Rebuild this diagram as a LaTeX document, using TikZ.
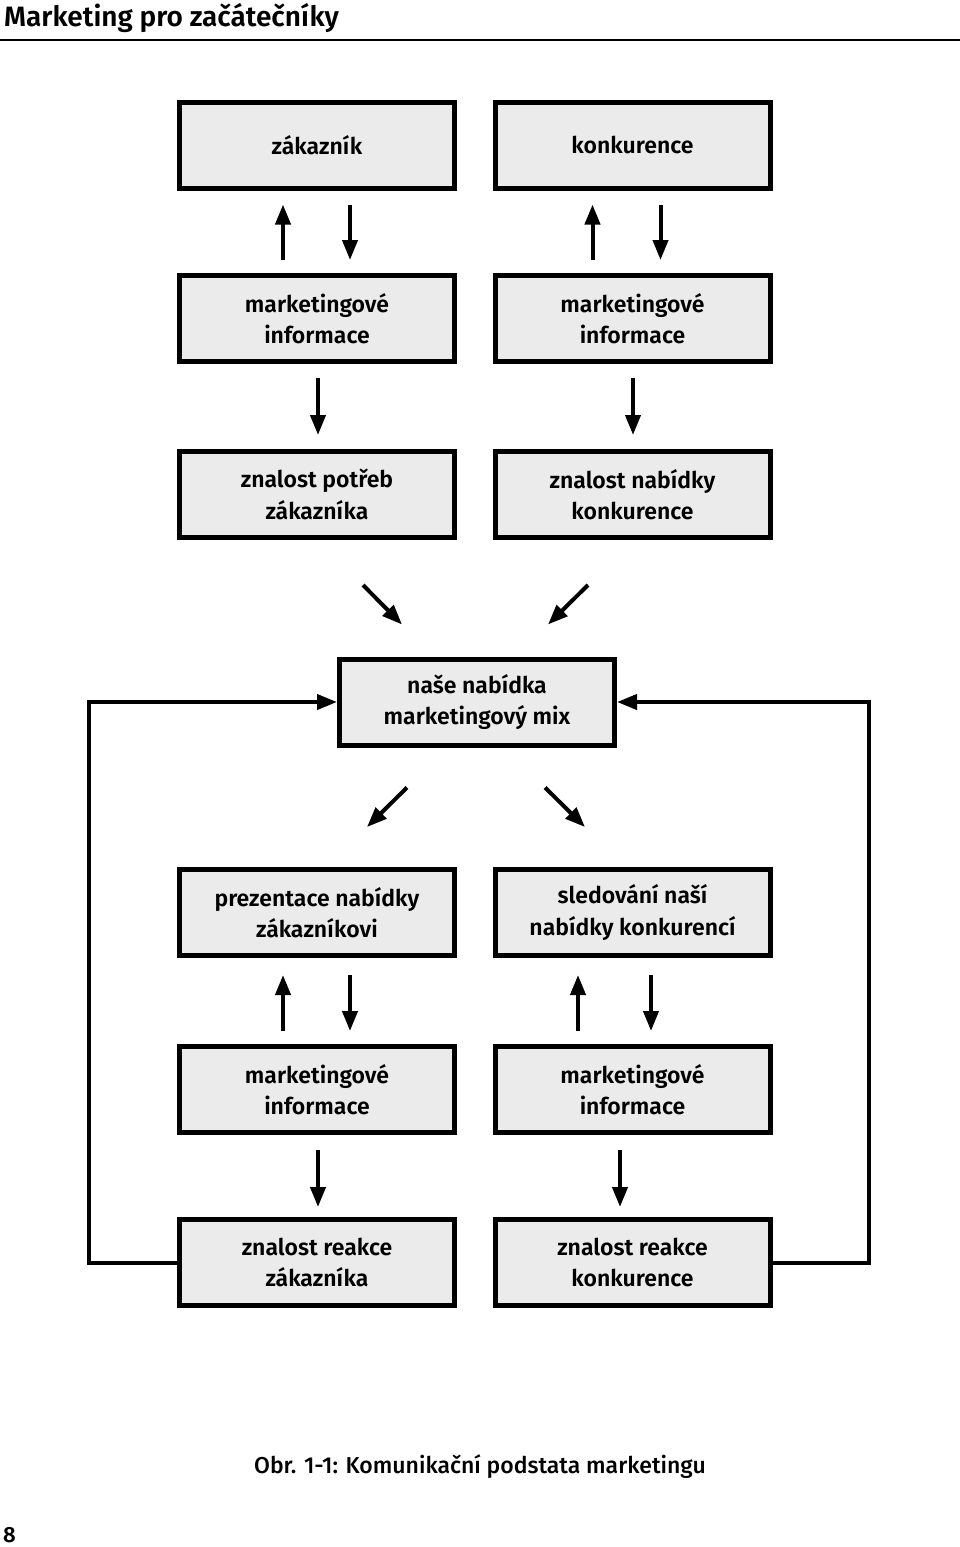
\documentclass[tikz,border=0pt]{standalone}
\usepackage{fontspec}
\setmainfont{Fira Sans}[BoldFont={Fira Sans SemiBold}]
\newfontfamily\capfont{Fira Sans Medium}
\usetikzlibrary{arrows.meta,calc}
\begin{document}
\begin{tikzpicture}[x=1pt,y=-1pt,
  box/.style={draw=black,line width=5pt,fill=boxgray,minimum width=275pt,minimum height=86pt,
    align=center,font=\fontsize{23}{31.5}\selectfont\bfseries,inner sep=0pt},
  arr/.style={line width=4pt,-{Triangle[length=20pt,width=15pt]}},
  fb/.style={line width=4pt,-{Triangle[length=20pt,width=15pt]}}]
\definecolor{boxgray}{HTML}{EBEBEB}
\useasboundingbox (0,0) rectangle (960,1547);
% header
\node[anchor=base west,font=\fontsize{28}{30}\selectfont\bfseries,inner sep=0pt] (title) at (4,26) {Marketing pro začátečníky};
\draw[line width=2pt] (0,40) -- (960,40);
% boxes
\node[box] (zak) at (317,145) {zákazník};
\node[box] (kon) at (632.5,145) {konkurence};
\node[box] (miL) at (317,318.5) {marketingové\\informace};
\node[box] (miR) at (632.5,318.5) {marketingové\\informace};
\node[box] (zpz) at (317,494.5) {znalost potřeb\\zákazníka};
\node[box] (znk) at (632.5,494.5) {znalost nabídky\\konkurence};
\node[box] (mix) at (477,702) {naše nabídka\\marketingový mix};
\node[box] (pnz) at (317,912.5) {prezentace nabídky\\zákazníkovi};
\node[box] (snk) at (632.5,912.5) {sledování naší\\nabídky konkurencí};
\node[box] (mi2L) at (317,1089.5) {marketingové\\informace};
\node[box] (mi2R) at (632.5,1089.5) {marketingové\\informace};
\node[box] (zrz) at (317,1262.5) {znalost reakce\\zákazníka};
\node[box] (zrk) at (632.5,1262.5) {znalost reakce\\konkurence};
% arrows row1-row2
\draw[arr] ($(miL.north)+(-34,-13)$) -- ($(zak.south)+(-34,14)$);
\draw[arr] ($(zak.south)+(33,14)$) -- ($(miL.north)+(33,-13)$);
\draw[arr] ($(miR.north)+(-40,-13)$) -- ($(kon.south)+(-40,14)$);
\draw[arr] ($(kon.south)+(28,14)$) -- ($(miR.north)+(28,-13)$);
% row2-row3
\draw[arr] ($(miL.south)+(1,14)$) -- ($(zpz.north)+(1,-14)$);
\draw[arr] ($(miR.south)+(0.5,14)$) -- ($(znk.north)+(0.5,-14)$);
% diagonals to mix
\draw[arr] ($(zpz.south)+(46,45)$) -- ($(mix.north)+(-75,-32)$);
\draw[arr] ($(znk.south)+(-44.5,45)$) -- ($(mix.north)+(71,-32)$);
% diagonals from mix
\draw[arr] ($(mix.south)+(-70,40)$) -- ($(pnz.north)+(50,-40)$);
\draw[arr] ($(mix.south)+(68,40)$) -- ($(snk.north)+(-47.5,-40)$);
% row4-row5
\draw[arr] ($(mi2L.north)+(-34,-13)$) -- ($(pnz.south)+(-34,17)$);
\draw[arr] ($(pnz.south)+(33,17)$) -- ($(mi2L.north)+(33,-13)$);
\draw[arr] ($(mi2R.north)+(-54.5,-13)$) -- ($(snk.south)+(-54.5,17)$);
\draw[arr] ($(snk.south)+(18.5,17)$) -- ($(mi2R.north)+(18.5,-13)$);
% row5-row6
\draw[arr] ($(mi2L.south)+(1,15)$) -- ($(zrz.north)+(1,-10)$);
\draw[arr] ($(mi2R.south)+(-12.5,15)$) -- ($(zrk.north)+(-12.5,-10)$);
% feedback loops
\coordinate (fl1) at (89,1262.5);
\coordinate (fl2) at (89,702);
\coordinate (fr1) at (869,1262.5);
\coordinate (fr2) at (869,702);
\draw[fb] (zrz.west) -- (fl1) -- (fl2) -- (mix.west);
\draw[fb] (zrk.east) -- (fr1) -- (fr2) -- (mix.east);
% caption
\node[anchor=base,font=\fontsize{23}{28}\selectfont\capfont,inner sep=0pt] (cap) at (480,1473) {Obr. 1-1: Komunikační podstata marketingu};
\node[anchor=base west,font=\fontsize{22}{26}\selectfont\bfseries,inner sep=0pt] (pg) at (3,1542) {8};
\end{tikzpicture}
\end{document}
